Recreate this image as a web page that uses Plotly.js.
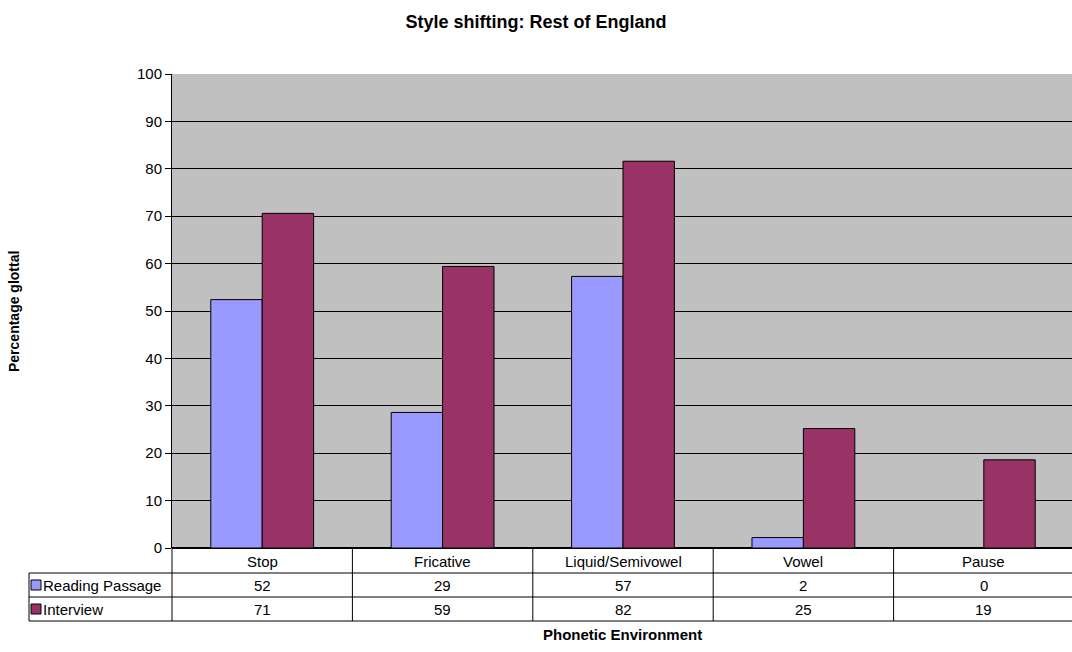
<!DOCTYPE html>
<html><head><meta charset="utf-8">
<script src="https://cdn.plot.ly/plotly-3.0.1.min.js"></script>
<style>html,body{margin:0;padding:0;overflow:hidden;background:#fff}</style>
</head><body><div id="chart"></div>
<script>
const categories = ['Stop', 'Fricative', 'Liquid/Semivowel', 'Vowel', 'Pause'];
const seriesNames = ['Reading Passage', 'Interview'];
const readingPassage = [52.4, 28.6, 57.3, 2.2, 0];
const interview = [70.6, 59.4, 81.6, 25.2, 18.6];
const yTicks = [0, 10, 20, 30, 40, 50, 60, 70, 80, 90, 100];
const chartTitle = 'Style shifting: Rest of England';
const xTitle = 'Phonetic Environment';
const yTitle = 'Percentage glottal';

const colors = ['#9999ff', '#993366'];
const W = 1074, H = 652, L = 172, R = 0, T = 74, B = 104;
const PW = W - L - R, PH = H - T - B;
const px = x => (x - L) / PW;
const py = y => (H - B - y) / PH;
const font = 'Arial, "Liberation Sans", sans-serif';

const seriesValues = [readingPassage, interview];
const traces = seriesValues.map((vals, i) => ({
  type: 'bar', x: categories, y: vals, name: seriesNames[i],
  marker: {color: colors[i], line: {color: '#000', width: 1}},
  hoverinfo: 'x+y'
}));

const shapes = [];
const annotations = [];
const rowTop = 548, row1 = 573, row2 = 597, row3 = 621;
const line = (x0, y0, x1, y1, w) => shapes.push({type: 'line', xref: 'paper', yref: 'paper',
  x0: px(x0), y0: py(y0), x1: px(x1), y1: py(y1), line: {color: '#000', width: w || 1}});
// table grid
line(29, row1, W, row1);
line(29, row2, W, row2);
line(29, row3, W, row3);
line(29, row1, 29, row3);
for (let k = 0; k <= categories.length; k++) {
  shapes.push({type: 'line', xref: 'paper', yref: 'paper', x0: k / categories.length, x1: k / categories.length,
    y0: py(rowTop), y1: py(row3), line: {color: '#000', width: 1}});
}
// category labels and values
const rowCenters = [(rowTop + row1) / 2 + 1, (row1 + row2) / 2, (row2 + row3) / 2];
categories.forEach((c, i) => {
  annotations.push({xref: 'x', yref: 'paper', x: c, y: py(rowCenters[0]), text: c, showarrow: false,
    xanchor: 'center', yanchor: 'middle', font: {family: font, size: 15, color: '#000'}});
  seriesValues.forEach((vals, s) => {
    annotations.push({xref: 'x', yref: 'paper', x: c, y: py(rowCenters[s + 1]), text: String(Math.round(vals[i])),
      showarrow: false, xanchor: 'center', yanchor: 'middle', font: {family: font, size: 15, color: '#000'}});
  });
});
// legend keys
seriesNames.forEach((n, s) => {
  const cy = rowCenters[s + 1];
  shapes.push({type: 'rect', xref: 'paper', yref: 'paper', x0: px(31), x1: px(41), y0: py(cy - 5), y1: py(cy + 5),
    fillcolor: colors[s], line: {color: '#000', width: 1}});
  annotations.push({xref: 'paper', yref: 'paper', x: px(41), y: py(cy), text: n, showarrow: false,
    xanchor: 'left', yanchor: 'middle', font: {family: font, size: 15, color: '#000'}});
});
// axis titles
annotations.push({xref: 'paper', yref: 'paper', x: px(14), y: py(312), text: '<b>' + yTitle + '</b>',
  textangle: -90, showarrow: false, xanchor: 'center', yanchor: 'middle', font: {family: font, size: 14, color: '#000'}});
annotations.push({xref: 'paper', yref: 'paper', x: px(622), y: py(634), text: '<b>' + xTitle + '</b>',
  showarrow: false, xanchor: 'center', yanchor: 'middle', font: {family: font, size: 15, color: '#000'}});

const layout = {
  width: W, height: H,
  margin: {l: L, r: R, t: T, b: B, pad: 0},
  paper_bgcolor: '#fff', plot_bgcolor: '#c0c0c0',
  title: {text: '<b>' + chartTitle + '</b>', x: 536 / W, xref: 'container', xanchor: 'center',
    y: 1 - 22 / H, yref: 'container', yanchor: 'middle', font: {family: font, size: 18, color: '#000'}},
  showlegend: false,
  barmode: 'group', bargap: 0.43, bargroupgap: 0,
  xaxis: {type: 'category', showticklabels: false, ticks: '', showgrid: false, zeroline: false,
    showline: false, range: [-0.5, categories.length - 0.5], fixedrange: true},
  yaxis: {range: [0, 100], tickvals: yTicks, ticktext: yTicks.map(String), ticks: 'outside', ticklen: 6,
    tickcolor: '#000', tickwidth: 1, showline: true, linecolor: '#000', linewidth: 1,
    gridcolor: '#000', gridwidth: 1, zeroline: true, zerolinecolor: '#000', zerolinewidth: 2,
    tickfont: {family: font, size: 15, color: '#000'}, fixedrange: true},
  shapes: shapes, annotations: annotations
};
Plotly.newPlot('chart', traces, layout, {displayModeBar: false, staticPlot: true});
</script></body></html>
